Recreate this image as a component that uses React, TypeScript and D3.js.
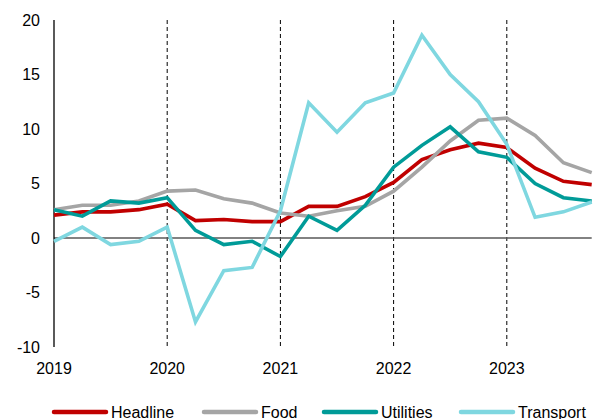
import React from "react";
import * as d3 from "d3";

const quarters = d3.range(20).map((i) => 2019 + i / 4);
const headline = [2.1, 2.4, 2.4, 2.6, 3.1, 1.6, 1.7, 1.5, 1.5, 2.9, 2.9, 3.8, 5.1, 7.2, 8.1, 8.7, 8.3, 6.4, 5.2, 4.9];
const food = [2.6, 3.0, 3.0, 3.4, 4.3, 4.4, 3.6, 3.2, 2.3, 2.0, 2.5, 2.9, 4.3, 6.5, 8.9, 10.8, 11.0, 9.4, 6.9, 6.0];
const utilities = [2.6, 2.0, 3.4, 3.2, 3.7, 0.7, -0.6, -0.3, -1.7, 2.0, 0.7, 3.0, 6.5, 8.5, 10.2, 7.9, 7.4, 5.0, 3.7, 3.4];
const transport = [-0.3, 1.0, -0.6, -0.3, 1.0, -7.7, -3.0, -2.7, 2.5, 12.4, 9.7, 12.4, 13.3, 18.6, 15.0, 12.5, 8.6, 1.9, 2.4, 3.3];

const seriesNames = ["Headline", "Food", "Utilities", "Transport"];
const seriesColors = ["#C00000", "#A5A5A5", "#009B98", "#7FD7E0"];
const seriesData = [headline, food, utilities, transport];

const yTicks = [-10, -5, 0, 5, 10, 15, 20];
const yearTicks = [2019, 2020, 2021, 2022, 2023];
const dashedYears = [2020, 2021, 2022, 2023];

export default function App() {
  const width = 603;
  const height = 419;
  const x = d3.scaleLinear().domain([2019, 2023.75]).range([54, 591.7]);
  const y = d3.scaleLinear().domain([-10, 20]).range([347, 20]);
  const line = d3
    .line<number>()
    .x((_, i) => x(quarters[i]))
    .y((d) => y(d));
  const font = "'Liberation Sans', Arial, sans-serif";
  const legendX = [53, 203, 323, 460];

  return (
    <svg
      width={width}
      height={height}
      style={{ position: "absolute", left: 0, top: 0, background: "#fff" }}
      fontFamily={font}
    >
      {dashedYears.map((yr) => (
        <line
          key={yr}
          x1={x(yr)}
          x2={x(yr)}
          y1={y(20)}
          y2={y(-10)}
          stroke="#000"
          strokeWidth={1}
          strokeDasharray="4,3"
        />
      ))}
      <line x1={x(2019)} x2={x(2023.75)} y1={y(0)} y2={y(0)} stroke="#595959" strokeWidth={1.3} />
      <line x1={x(2019)} x2={x(2019)} y1={y(20)} y2={y(-10)} stroke="#000" strokeWidth={1.3} />
      {yTicks.map((t) => (
        <text key={t} x={40} y={y(t)} dy="0.35em" textAnchor="end" fontSize={16} fill="#000">
          {t}
        </text>
      ))}
      {yearTicks.map((yr) => (
        <text key={yr} x={x(yr)} y={374} textAnchor="middle" fontSize={16} fill="#000">
          {yr}
        </text>
      ))}
      {seriesData.map((s, k) => (
        <path
          key={seriesNames[k]}
          d={line(s) || ""}
          fill="none"
          stroke={seriesColors[k]}
          strokeWidth={3.6}
          strokeLinejoin="miter"
        />
      ))}
      {seriesNames.map((n, k) => (
        <g key={n}>
          <line
            x1={legendX[k] + 1}
            x2={legendX[k] + 53}
            y1={412}
            y2={412}
            stroke={seriesColors[k]}
            strokeWidth={4.5}
            strokeLinecap="round"
          />
          <text x={legendX[k] + 58} y={417.5} fontSize={16} fill="#000">
            {n}
          </text>
        </g>
      ))}
    </svg>
  );
}
